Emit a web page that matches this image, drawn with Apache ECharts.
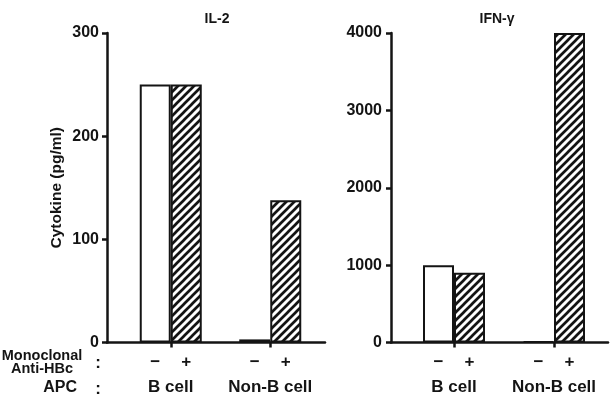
<!DOCTYPE html>
<html>
<head>
<meta charset="utf-8">
<script src="https://cdn.jsdelivr.net/npm/echarts@6/dist/echarts.min.js"></script>
<style>
html,body{margin:0;padding:0;background:#fff;}
#c{width:615px;height:400px;}
</style>
</head>
<body>
<div id="c"></div>
<script>
// ---- data ----
const categories = ['B cell', 'Non-B cell'];
const antibodyLabels = ['\u2212', '+'];
const il2Minus = [250, 3];
const il2Plus = [250, 138];
const ifnMinus = [1000, 15];
const ifnPlus = [900, 4000];
const il2Ticks = {min: 0, max: 300, interval: 100};
const ifnTicks = {min: 0, max: 4000, interval: 1000};
const titles = ['IL-2', 'IFN-\u03b3'];
const yName = 'Cytokine (pg/ml)';

const FONT = '"Liberation Sans", Arial, sans-serif';
const INK = '#141414';

// hatch pattern
function makeHatch() {
  const s = 8;
  const cv = document.createElement('canvas');
  cv.width = s; cv.height = s;
  const ctx = cv.getContext('2d');
  ctx.fillStyle = '#fff';
  ctx.fillRect(0, 0, s, s);
  ctx.strokeStyle = INK;
  ctx.lineWidth = 2.7;
  ctx.lineCap = 'square';
  ctx.beginPath();
  for (let k = -1; k <= 1; k++) {
    ctx.moveTo(k * s, s);
    ctx.lineTo(k * s + s, 0);
  }
  ctx.stroke();
  return cv;
}
const hatch = {image: makeHatch(), repeat: 'repeat'};

const chart = echarts.init(document.getElementById('c'), null, {renderer: 'canvas'});

const lineStyle = {color: INK, width: 2.5};

function mainX(gridIndex) {
  return {
    type: 'category', gridIndex: gridIndex, data: categories,
    axisLine: {show: false},
    axisTick: {show: true, alignWithLabel: true, length: 5, lineStyle: lineStyle},
    axisLabel: {interval: 0, color: INK, fontFamily: FONT, fontWeight: 'bold', fontSize: 17, margin: 36}
  };
}
function mainY(gridIndex, ticks, offset, margin, name) {
  return {
    type: 'value', gridIndex: gridIndex, min: ticks.min, max: ticks.max, interval: ticks.interval,
    offset: offset,
    name: name || '', nameLocation: 'middle', nameRotate: 90, nameGap: 42,
    nameTextStyle: {color: INK, fontFamily: FONT, fontWeight: 'bold', fontSize: 15.5},
    axisLine: {show: true, lineStyle: lineStyle},
    axisTick: {show: true, length: 5, lineStyle: lineStyle},
    splitLine: {show: false},
    axisLabel: {color: INK, fontFamily: FONT, fontWeight: 'bold', fontSize: 16, margin: margin,
      formatter: function (v) { return String(v); }}
  };
}
function helperX(gridIndex) {
  return {type: 'value', gridIndex: gridIndex, min: 0, max: 1,
    axisLine: {show: true, onZero: false, lineStyle: lineStyle},
    axisTick: {show: false}, axisLabel: {show: false}, splitLine: {show: false}};
}
function helperY(gridIndex) {
  return {type: 'value', gridIndex: gridIndex, min: 0, max: 1, show: false};
}

const barLabel = (txt) => ({
  show: true, position: 'bottom', distance: 11, formatter: txt,
  color: INK, fontFamily: FONT, fontWeight: 'bold', fontSize: 17
});

function barSeries(axisIdx, data, fill, txt) {
  return {
    type: 'bar', xAxisIndex: axisIdx, yAxisIndex: axisIdx, data: data,
    barWidth: 31, barGap: '0%',
    itemStyle: {color: fill, borderColor: INK, borderWidth: 2},
    label: barLabel(txt),
    emphasis: {disabled: true},
    animation: false
  };
}

const textStyle = {color: INK, fontFamily: FONT, fontWeight: 'bold'};

chart.setOption({
  animation: false,
  backgroundColor: '#fff',
  title: [
    {text: titles[0], left: 217, top: 12, textAlign: 'center', padding: 0, textStyle: Object.assign({fontSize: 14}, textStyle)},
    {text: titles[1], left: 497, top: 12, textAlign: 'center', padding: 0, textStyle: Object.assign({fontSize: 14}, textStyle)},
    {text: 'Monoclonal\nAnti-HBc', left: 42, top: 349, textAlign: 'center', padding: 0,
      textStyle: Object.assign({fontSize: 14.5, lineHeight: 13}, textStyle)},
    {text: 'APC', left: 77, top: 380, textAlign: 'right', padding: 0, textStyle: Object.assign({fontSize: 16}, textStyle)},
    {text: ':', left: 98, top: 355, textAlign: 'center', padding: 0, textStyle: Object.assign({fontSize: 17}, textStyle)},
    {text: ':', left: 98, top: 381, textAlign: 'center', padding: 0, textStyle: Object.assign({fontSize: 17}, textStyle)}
  ],
  grid: [
    {left: 121, width: 199, top: 33, height: 309.5},
    {left: 404, width: 200, top: 33, height: 309.5},
    {left: 107, width: 218, top: 33, height: 309.5},
    {left: 391, width: 217, top: 33, height: 309.5}
  ],
  xAxis: [mainX(0), mainX(1), helperX(2), helperX(3)],
  yAxis: [
    mainY(0, il2Ticks, 14, 8, yName),
    mainY(1, ifnTicks, 13, 9, ''),
    helperY(2), helperY(3)
  ],
  series: [
    barSeries(0, il2Minus, '#ffffff', antibodyLabels[0]),
    barSeries(0, il2Plus, hatch, antibodyLabels[1]),
    barSeries(1, ifnMinus, '#ffffff', antibodyLabels[0]),
    barSeries(1, ifnPlus, hatch, antibodyLabels[1])
  ]
});
</script>
</body>
</html>
